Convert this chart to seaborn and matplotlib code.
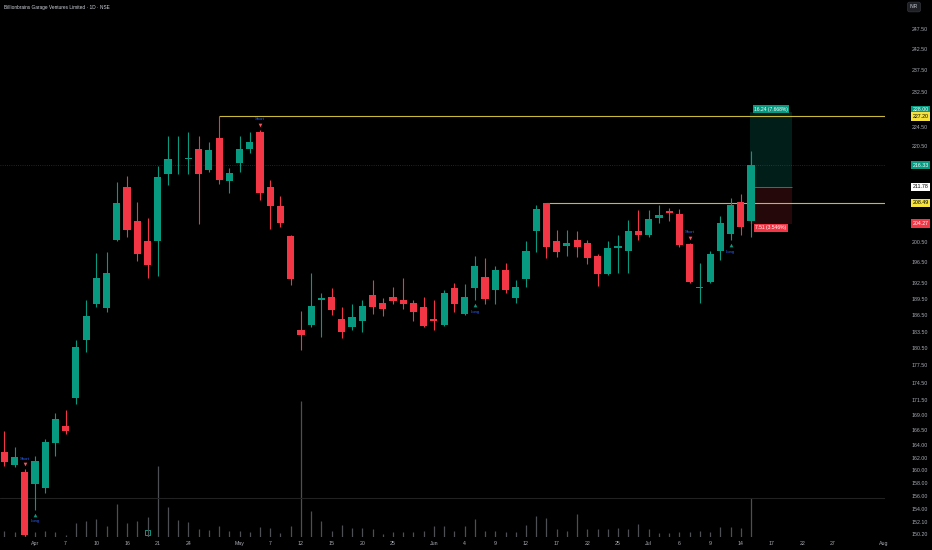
import numpy as np
import pandas as pd
import seaborn as sns
import matplotlib.pyplot as plt
from matplotlib.transforms import blended_transform_factory, offset_copy

# ---- data (daily candles, NSE, INR) ----
title = "Billionbrains Garage Ventures Limited · 1D · NSE"

opens = [163.0, 160.9, 159.8, 157.9, 157.4, 164.4, 167.2, 171.9, 182.0, 188.7,
         187.9, 201.0, 211.8, 204.8, 200.8, 200.8, 214.6, 217.6, 217.7, 219.8,
         215.3, 222.3, 213.0, 216.8, 219.9, 223.6, 211.8, 207.9, 201.8, 183.9,
         184.8, 189.4, 189.9, 185.9, 184.5, 185.5, 190.4, 188.9, 189.9, 189.4,
         188.9, 188.2, 185.9, 184.8, 191.7, 186.9, 191.6, 193.8, 191.3, 195.1,
         189.8, 193.3, 202.7, 208.49, 200.7, 199.8, 201.0, 200.4, 197.8, 194.3,
         199.4, 198.8, 202.8, 201.9, 205.3, 206.9, 206.2, 200.2, 191.7, 192.8,
         198.8, 202.1, 208.6, 204.8]
highs = [166.4, 163.9, 160.3, 162.4, 165.2, 169.5, 169.9, 182.1, 189.4, 198.5,
         198.7, 212.9, 214.1, 208.7, 205.3, 216.3, 222.7, 222.7, 223.6, 222.7,
         221.3, 227.2, 215.7, 222.7, 223.5, 224.1, 213.2, 209.9, 202.0, 187.4,
         194.5, 190.7, 191.6, 188.2, 188.7, 189.4, 193.2, 189.7, 191.9, 193.5,
         189.4, 190.0, 189.4, 191.3, 192.7, 192.4, 197.8, 197.4, 195.8, 196.5,
         193.1, 200.8, 208.0, 208.5, 203.0, 203.0, 202.8, 201.0, 198.2, 200.7,
         201.9, 205.0, 207.0, 207.0, 208.0, 207.4, 207.2, 200.4, 196.4, 198.8,
         205.8, 209.4, 210.3, 219.5]
lows = [160.8, 160.7, 150.0, 154.0, 156.5, 162.3, 166.0, 171.0, 180.0, 188.2,
        187.2, 200.7, 201.6, 196.9, 193.5, 194.0, 212.2, 214.6, 214.6, 204.2,
        214.9, 212.3, 210.6, 214.9, 218.9, 209.1, 203.1, 203.6, 192.3, 180.3,
        184.5, 182.7, 186.6, 182.4, 183.9, 183.6, 186.8, 186.4, 188.7, 187.7,
        185.6, 184.4, 183.9, 184.6, 187.2, 186.6, 189.4, 188.7, 188.6, 190.7,
        188.9, 191.9, 198.7, 197.4, 197.7, 197.8, 197.6, 196.3, 192.0, 194.1,
        194.5, 194.5, 201.0, 201.5, 204.4, 204.8, 199.6, 192.6, 188.8, 192.6,
        197.0, 201.0, 201.9, 201.6]
closes = [161.4, 162.2, 150.2, 161.5, 164.7, 168.5, 166.5, 180.9, 186.5, 193.5,
          194.6, 208.5, 203.0, 198.2, 196.0, 213.8, 217.6, 217.8, 217.9, 214.5,
          219.7, 213.2, 214.8, 219.9, 221.4, 210.6, 207.9, 204.4, 193.4, 183.0,
          188.3, 189.7, 187.6, 183.6, 186.3, 188.3, 188.2, 187.7, 189.3, 188.7,
          187.2, 184.6, 185.5, 190.7, 188.7, 190.0, 195.9, 189.6, 195.1, 191.3,
          191.8, 198.8, 207.2, 199.5, 198.7, 200.4, 199.6, 197.5, 194.3, 199.4,
          199.8, 202.8, 201.9, 205.2, 205.9, 206.3, 199.9, 192.9, 191.9, 198.3,
          204.3, 208.0, 203.6, 216.33]
# volume, x10k shares (rough)
volume = [6, 5, 10, 5, 6, 5, 2, 14, 16, 18,
          11, 33, 14, 16, 20, 71, 30, 17, 15, 8,
          7, 11, 6, 6, 5, 10, 9, 4, 11, 136,
          26, 16, 6, 12, 9, 9, 8, 3, 5, 5,
          5, 6, 11, 11, 6, 11, 18, 6, 6, 5,
          5, 12, 21, 19, 8, 6, 23, 8, 8, 8,
          9, 8, 13, 8, 4, 4, 5, 5, 6, 5,
          10, 10, 9, 39]

tick_bars = [3, 6, 9, 12, 15, 18, 23, 26, 29, 32, 35, 38, 42, 45, 48, 51, 54,
             57, 60, 63, 66, 69, 72, 75, 78, 81, 86]
tick_labels = ["Apr", "7", "10", "16", "21", "24", "May", "7", "12", "15", "20",
               "25", "Jun", "4", "9", "12", "17", "22", "25", "Jul", "6", "9",
               "14", "17", "22", "27", "Aug"]
price_ticks = [247.5, 242.5, 237.5, 232.5, 224.5, 220.5, 200.5, 196.5, 192.5,
               189.5, 186.5, 183.5, 180.5, 177.5, 174.5, 171.5, 169.0, 166.5,
               164.0, 162.0, 160.0, 158.0, 156.0, 154.0, 152.1, 150.2]

short_bars = [2, 25, 67]
long_bars = [3, 46, 71]
event_bar = 14

upper_level, upper_from = 227.20, 21
lower_level, lower_from = 208.49, 53
last_price = 216.33
pos_entry, pos_target, pos_stop = 211.78, 228.00, 204.27
pos_span = (72.9, 77.0)
pos_gain_text = "16.24 (7.668%)"
pos_loss_text = "7.51 (3.546%)"

UP, DOWN = "#089981", "#f23645"
YELLOW = "#f5e23c"
TXT = "#a9acb5"

sns.set_theme(style="dark", rc={"figure.facecolor": "black", "axes.facecolor": "black",
                                "axes.edgecolor": "black", "axes.grid": False})
plt.rcParams["font.family"] = ["Liberation Sans", "DejaVu Sans"]

fig = plt.figure(figsize=(9.32, 5.5), dpi=100, facecolor="black")
rect = [0, 13 / 550, 885 / 932, 537 / 550]
xlim = (-0.42, 86.1)

# volume overlay sits behind the candles
vax = fig.add_axes(rect)
vax.set_facecolor("black")
bars = np.arange(len(opens))
vax.vlines(bars, 0, volume, color="#4d4f55", lw=0.9)
vax.axhline(39, color="#222222", lw=0.8)
vax.scatter([event_bar], [4.5], marker="s", s=9, facecolor="none", edgecolor=UP, lw=0.7)
vax.set_ylim(0, max(volume) / 0.254)
vax.set_xlim(*xlim)
vax.axis("off")

ax = fig.add_axes(rect)
ax.patch.set_alpha(0)
ax.set_yscale("log")
ax.set_ylim(149.9, 254.7)
ax.set_xlim(*xlim)

o, h, l, c = map(np.array, (opens, highs, lows, closes))
cols = np.where(c >= o, UP, DOWN)
ax.vlines(bars, l, h, colors=cols, lw=0.8, zorder=3)
ax.bar(bars, np.maximum(np.abs(c - o), 0.2), bottom=np.minimum(o, c), width=0.7,
       color=cols, linewidth=0, zorder=4)

# drawn levels
ax.hlines(upper_level, upper_from, xlim[1], color="#c9b83a", lw=0.8, zorder=2)
ax.hlines(lower_level, lower_from, xlim[1], color="#c9b83a", lw=0.8, zorder=2)
ax.axhline(last_price, color=UP, lw=0.6, ls=":", alpha=0.45, zorder=1)

# long position tool
ax.fill_between(pos_span, pos_entry, pos_target, color=UP, alpha=0.2, lw=0, zorder=1)
ax.fill_between(pos_span, pos_stop, pos_entry, color=DOWN, alpha=0.15, lw=0, zorder=1)
ax.hlines(pos_entry, *pos_span, color="#5d606b", lw=0.7, zorder=2)
mid = sum(pos_span) / 2
ax.annotate(pos_gain_text, (mid, pos_target), xytext=(0, 2.2), textcoords="offset points",
            ha="center", va="center", fontsize=3.6, color="white",
            bbox=dict(boxstyle="square,pad=0.25", fc=UP, ec="none"), zorder=6)
ax.annotate(pos_loss_text, (mid, pos_stop), xytext=(0, -3.2), textcoords="offset points",
            ha="center", va="center", fontsize=3.6, color="white",
            bbox=dict(boxstyle="square,pad=0.25", fc=DOWN, ec="none"), zorder=6)

# strategy signals
sig_short = pd.DataFrame({"bar": short_bars, "price": h[short_bars]})
sig_long = pd.DataFrame({"bar": long_bars, "price": l[long_bars]})
sns.scatterplot(data=sig_short, x="bar", y="price", marker="v", color="#f7525f", s=7,
                linewidth=0, ax=ax, zorder=5)
ax.collections[-1].set_offset_transform(offset_copy(ax.transData, fig, y=3.5, units="points"))
sns.scatterplot(data=sig_long, x="bar", y="price", marker="^", color=UP, s=7,
                linewidth=0, ax=ax, zorder=5)
ax.collections[-1].set_offset_transform(offset_copy(ax.transData, fig, y=-3.5, units="points"))
for b, p in zip(sig_short["bar"], sig_short["price"]):
    ax.annotate("Short", (b, p), xytext=(0, 7.5), textcoords="offset points", ha="center",
                va="center", fontsize=3.1, color="#2962ff")
for b, p in zip(sig_long["bar"], sig_long["price"]):
    ax.annotate("Long", (b, p), xytext=(0, -8.5), textcoords="offset points", ha="center",
                va="center", fontsize=3.1, color="#2962ff")

# axes cosmetics
for s in ax.spines.values():
    s.set_visible(False)
ax.set_yticks([])
ax.yaxis.set_minor_locator(plt.NullLocator())
ax.set_xticks(tick_bars)
ax.set_xticklabels(tick_labels)
ax.tick_params(axis="x", length=0, pad=3, labelsize=3.8, colors=TXT)
ax.set_xlabel("")
ax.set_ylabel("")

# right price scale
tr = blended_transform_factory(ax.transAxes, ax.transData)
for p in price_ticks:
    ax.text(928 / 885, p, f"{p:.2f}", transform=tr, ha="right", va="center",
            fontsize=3.8, color=TXT, clip_on=False)
boxes = [(pos_target, UP, "white", 1.8), (upper_level, YELLOW, "black", -0.6),
         (last_price, UP, "white", 0), (pos_entry, "white", "black", 0),
         (lower_level, YELLOW, "black", 0), (pos_stop, DOWN, "white", 0)]
for p, fc, tc, dy in boxes:
    ax.annotate(f"{p:.2f}", (920.5 / 885, p), xycoords=tr, xytext=(0, dy),
                textcoords="offset points", ha="center", va="center", fontsize=3.8,
                color=tc, annotation_clip=False,
                bbox=dict(boxstyle="square,pad=0.3", fc=fc, ec="none"))

fig.text(4 / 932, 1 - 7 / 550, title, fontsize=3.4, color="#d1d4dc", va="center")
fig.text(914 / 932, 1 - 7 / 550, "INR", fontsize=3.4, color="#d1d4dc", ha="center",
         va="center", bbox=dict(boxstyle="round,pad=0.5,rounding_size=0.4", fc="#1e2025",
                                ec="#33363d", lw=0.5))

fig.savefig("out.png", dpi=100, facecolor="black")
